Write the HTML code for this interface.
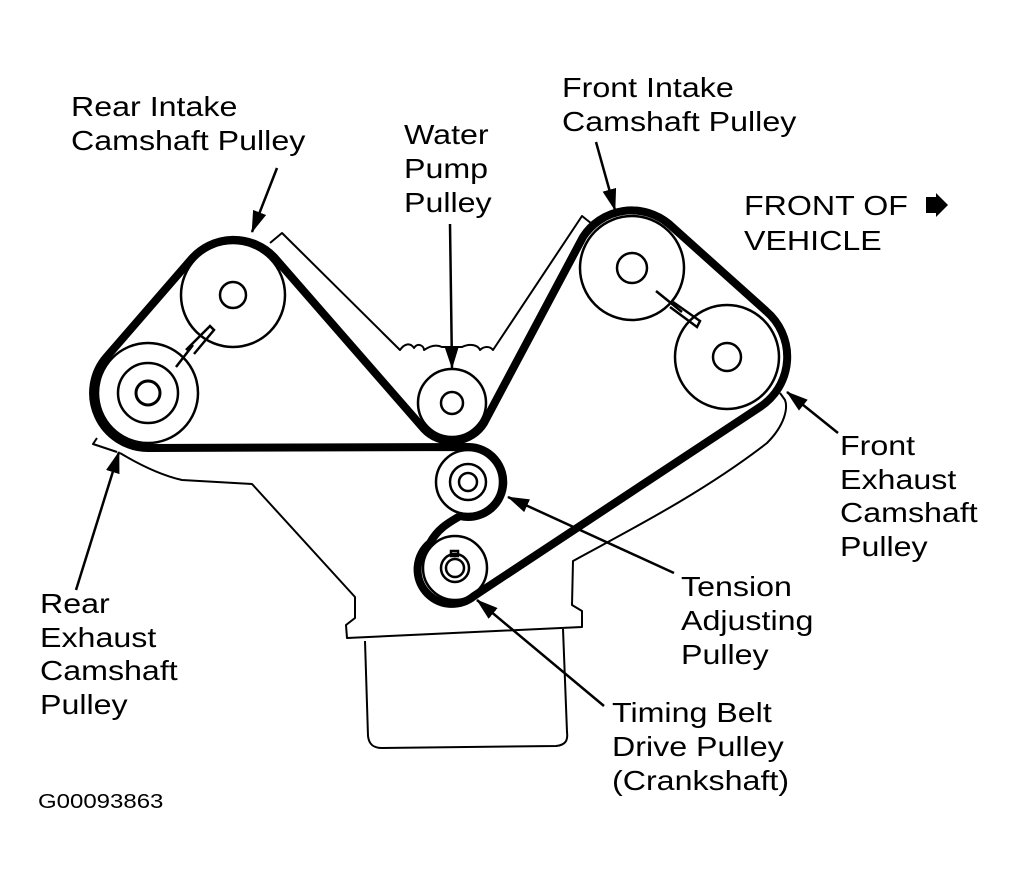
<!DOCTYPE html>
<html><head><meta charset="utf-8"><style>
html,body{margin:0;padding:0;background:#fff;}
svg{display:block;}
text{font-family:"Liberation Sans",Arial,sans-serif;fill:#000;}
</style></head><body>
<svg width="1019" height="881" viewBox="0 0 1019 881" xmlns="http://www.w3.org/2000/svg">
<defs>
<marker id="ah2" markerWidth="22" markerHeight="14" refX="21" refY="7" orient="auto" markerUnits="userSpaceOnUse" viewBox="0 0 22 14">
<path d="M0,0 L22,7 L0,14 z" fill="#000"/>
</marker>
</defs>

<g fill="none" stroke="#000" stroke-width="2" stroke-linejoin="round">
<path d="M97,438 L93,444 L117,452 M120,453 C140,465 160,475 182,480 L252,484 L355,597 L355,618 L346,625 L347,638 L582,627 L582,611 L572,605 L573,561 C620,535 700,495 767,443 C785,425 788,408 785,400 L780,393"/>
<path d="M365,641 L368,736 C369,745 374,748 382,748 L556,746 C566,745 568,740 567,732 L563,629"/>
<path d="M270,243 L282,233 L400,350 C404,344 410,342 414,348 C418,342 424,346 424,350 C430,346 436,344 442,347 L462,347 C470,343 478,345 480,350 C484,346 490,346 493,350 L582,216 L592,224"/>
</g>

<g fill="#fff" stroke="#000" stroke-width="2.5">
<circle cx="233" cy="295" r="52"/>
<circle cx="148" cy="393" r="50"/>
<circle cx="452" cy="403" r="34"/>
<circle cx="468" cy="482" r="32"/>
<circle cx="455" cy="568" r="32"/>
<circle cx="632" cy="268" r="52"/>
<circle cx="727" cy="357" r="52"/>
</g>
<g fill="none" stroke="#000" stroke-width="2.5">
<circle cx="233" cy="295" r="13"/>
<circle cx="148" cy="393" r="30"/>
<circle cx="148" cy="393" r="12" stroke-width="3"/>
<circle cx="452" cy="403" r="11"/>
<circle cx="468" cy="482" r="18"/>
<circle cx="468" cy="482" r="9"/>
<circle cx="455" cy="568" r="14"/>
<circle cx="455" cy="568" r="9"/>
<rect x="451" y="551" width="7" height="5"/>
<circle cx="632" cy="268" r="15"/>
<circle cx="727" cy="357" r="14"/>
<path d="M176,367 L193,345 M186,350 L210,326 L214,330 L194,354"/>
<path d="M656,291 L682,312 M673,302 L700,321 L697,327 L670,307"/>
</g>

<path d="M148,448 A55,55 0 0 1 106.5,357 L191.5,259 A56,56 0 0 1 274,257 L424,429 A38,38 0 0 0 484,423 L583,237 A58,58 0 0 1 669,224 L766,311 A60,60 0 0 1 760,407 L474,596 A34,34 0 0 1 430,543 C438,528 450,522 460,516 A35,35 0 1 0 469,447 Z"
 fill="none" stroke="#000" stroke-width="8" stroke-linejoin="round"/>

<g stroke="#000" stroke-width="2.5" fill="none">
<line x1="277" y1="168" x2="252" y2="232" marker-end="url(#ah2)"/>
<line x1="450" y1="224" x2="452" y2="368" marker-end="url(#ah2)"/>
<line x1="596" y1="142" x2="615" y2="210" marker-end="url(#ah2)"/>
<line x1="838" y1="433" x2="787" y2="392" marker-end="url(#ah2)"/>
<line x1="674" y1="573" x2="508" y2="497" marker-end="url(#ah2)"/>
<line x1="604" y1="706" x2="477" y2="600" marker-end="url(#ah2)"/>
<line x1="76" y1="590" x2="119" y2="452" marker-end="url(#ah2)"/>
</g>
<path d="M926,197 L936,197 L936,193 L948,205 L936,217 L936,213 L926,213 Z" fill="#000"/>

<g font-size="28">
<text transform="translate(71,116) scale(1.15,1)">Rear Intake</text>
<text transform="translate(71,150) scale(1.15,1)">Camshaft Pulley</text>
<text transform="translate(404,144) scale(1.15,1)">Water</text>
<text transform="translate(404,178) scale(1.15,1)">Pump</text>
<text transform="translate(404,212) scale(1.15,1)">Pulley</text>
<text transform="translate(562,97) scale(1.15,1)">Front Intake</text>
<text transform="translate(562,131) scale(1.15,1)">Camshaft Pulley</text>
<text transform="translate(744,215) scale(1.15,1)">FRONT OF</text>
<text transform="translate(744,250) scale(1.15,1)">VEHICLE</text>
<text transform="translate(840,455) scale(1.15,1)">Front</text>
<text transform="translate(840,489) scale(1.15,1)">Exhaust</text>
<text transform="translate(840,522) scale(1.15,1)">Camshaft</text>
<text transform="translate(840,556) scale(1.15,1)">Pulley</text>
<text transform="translate(681,596) scale(1.15,1)">Tension</text>
<text transform="translate(681,630) scale(1.15,1)">Adjusting</text>
<text transform="translate(681,664) scale(1.15,1)">Pulley</text>
<text transform="translate(612,722) scale(1.15,1)">Timing Belt</text>
<text transform="translate(612,756) scale(1.15,1)">Drive Pulley</text>
<text transform="translate(612,790) scale(1.15,1)">(Crankshaft)</text>
<text transform="translate(40,613) scale(1.15,1)">Rear</text>
<text transform="translate(40,647) scale(1.15,1)">Exhaust</text>
<text transform="translate(40,680) scale(1.15,1)">Camshaft</text>
<text transform="translate(40,714) scale(1.15,1)">Pulley</text>
</g>
<text font-size="20" transform="translate(38,808) scale(1.2,1)">G00093863</text>
</svg>
</body></html>
